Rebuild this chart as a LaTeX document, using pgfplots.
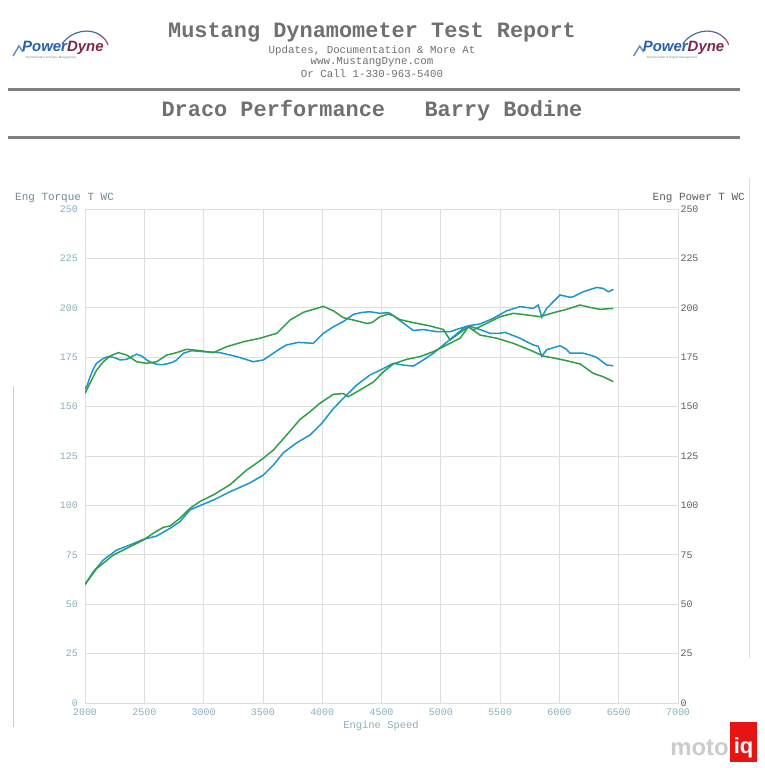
\documentclass[border=0pt]{standalone}
\usepackage{fontspec}
\setmainfont{Liberation Mono}
\newfontfamily\sansf{Liberation Sans}
\usepackage{pgfplots}
\pgfplotsset{compat=1.18}
\definecolor{gridgray}{RGB}{222,222,222}
\definecolor{ticklab}{RGB}{138,176,188}
\definecolor{rlab}{RGB}{95,95,95}
\definecolor{titlegray}{RGB}{112,112,112}
\definecolor{rulegray}{RGB}{128,128,128}
\definecolor{cblue}{RGB}{28,150,205}
\definecolor{cgreen}{RGB}{48,158,70}
\definecolor{pdblue}{RGB}{40,95,170}
\definecolor{pdred}{RGB}{125,40,75}
\definecolor{miqred}{RGB}{230,20,20}
\begin{document}
\begin{tikzpicture}[x=1bp,y=1bp]
\path[use as bounding box,fill=white] (0,0) rectangle (765,768);
% header
\node[text=titlegray,font=\bfseries\fontsize{22}{24}\selectfont] at (372,735) {Mustang Dynamometer Test Report};
\node[text=titlegray,font=\fontsize{10.8}{12}\selectfont] at (372,717) {Updates, Documentation \& More At};
\node[text=titlegray,font=\fontsize{10.8}{12}\selectfont] at (372,706) {www.MustangDyne.com};
\node[text=titlegray,font=\fontsize{10.8}{12}\selectfont] at (372,694) {Or Call 1-330-963-5400};
\draw[rulegray,line width=3bp] (8,678) -- (740,678);
\node[text=titlegray,font=\bfseries\fontsize{22}{24}\selectfont] at (372,657) {Draco Performance\ \ \ Barry Bodine};
\draw[rulegray,line width=3bp] (8,630) -- (740,630);
% logos
\foreach \ox in {0,623}{
  \begin{scope}[xshift=\ox]
    \draw[pdblue!60!gray,line width=1.2bp] (62,724) .. controls (72,738) and (90,740) .. (100,733);
    \draw[pdred!80,line width=1.2bp] (100,733) .. controls (104,730) and (107,727) .. (108,723);
    \draw[pdblue!70,line width=1.5bp] (13,712) -- (19,722) -- (23,716);
    \node[anchor=west,inner sep=0,font=\sansf\bfseries\itshape\fontsize{15}{16}\selectfont] at (22,720) {\textcolor{pdblue}{Power}\textcolor{pdred}{Dyne}};
    \node[anchor=west,inner sep=0,text=gray,font=\sansf\fontsize{3}{3}\selectfont] at (26,710) {Dynamometer \& Engine Management};
  \end{scope}
}
% faint scan lines
\draw[gray!40,line width=0.6bp] (13,41) -- (13,382);
\draw[gray!25,line width=0.6bp] (749,110) -- (749,590);
\begin{axis}[
  at={(85bp,65bp)}, anchor=south west,
  width=593bp, height=494bp, scale only axis,
  xmin=2000, xmax=7000, ymin=0, ymax=250,
  xtick={2000,2500,...,7000}, ytick={0,25,...,250},
  grid=major, grid style={color=gridgray,line width=0.7bp},
  axis line style={gridgray,line width=0.7bp},
  major tick length=0pt,
  tick label style={font=\fontsize{10}{12}\selectfont,text=ticklab},
  xticklabel style={/pgf/number format/1000 sep={},yshift=-2bp},
  yticklabel style={xshift=-3bp},
  /pgf/number format/assume math mode=true,
  line width=1.5bp,
]
% Blue torque
\addplot[cblue,no marks] coordinates {
(2000,158.7)(2020,161)(2042,165)(2070,169)(2098,172)(2155,174.4)(2197,175.3)(2250,174.8)(2295,173.6)(2351,173.9)(2400,175.5)(2436,176.5)(2480,175.5)(2520,173.6)(2560,172.3)(2604,171.4)(2650,171.2)(2689,171.6)(2740,172.5)(2773,173.6)(2829,177)(2900,178.3)(2998,177.8)(3138,177.3)(3279,175.3)(3419,172.7)(3504,173.6)(3588,177)(3650,179.5)(3700,181.2)(3799,182.5)(3850,182.3)(3925,182)(4010,187.1)(4094,190.4)(4178,193)(4263,196.7)(4340,197.7)(4403,198)(4487,197.2)(4544,197.5)(4572,197.2)(4656,193.5)(4768,188.5)(4853,189)(4966,187.9)(5078,187.9)(5162,189.6)(5232,190.8)(5303,189.6)(5415,187.1)(5500,187.1)(5541,187.6)(5668,184.6)(5724,182.8)(5780,181.2)(5822,180.5)(5851,175.5)(5893,178.8)(6005,180.8)(6060,179)(6089,177)(6145,177)(6201,177)(6258,176.1)(6314,174.9)(6343,173.6)(6399,171)(6455,170.7)
};
% Green torque
\addplot[cgreen,no marks] coordinates {
(2000,156.7)(2042,161.8)(2098,168.5)(2155,172.7)(2211,175.6)(2281,177.3)(2351,176.1)(2436,172.7)(2520,171.9)(2604,172.7)(2689,176.1)(2773,177.3)(2857,179)(2970,178.3)(3082,177.3)(3195,180.3)(3335,182.8)(3476,184.6)(3617,187.1)(3729,193.8)(3841,197.7)(3925,199.2)(4010,200.7)(4094,198.5)(4178,195)(4263,193.8)(4375,192.1)(4420,192.5)(4487,195.5)(4557,196.8)(4600,196)(4656,194)(4768,192.5)(4909,190.8)(5022,189)(5078,183.7)(5162,187.4)(5232,190.4)(5331,186.2)(5472,184.6)(5612,182)(5752,178.6)(5864,175.6)(6033,173.6)(6174,171.6)(6286,166.8)(6370,165.1)(6455,162.6)
};
% Blue power
\addplot[cblue,no marks] coordinates {
(2000,60)(2070,66.4)(2155,72.4)(2267,77.4)(2380,80)(2492,82.8)(2604,84.5)(2717,88.4)(2801,91.8)(2885,97.7)(2970,99.9)(3082,102.7)(3223,106.9)(3391,111.4)(3503,115.3)(3588,120.4)(3672,126.6)(3785,131.7)(3897,135.6)(3996,141.5)(4094,149)(4178,154.2)(4291,160.9)(4403,166)(4501,168.8)(4600,171.9)(4684,171)(4768,170.5)(4853,173.6)(4937,177)(5022,181.2)(5106,185.4)(5190,189.6)(5232,190.9)(5331,191.8)(5443,194.7)(5556,198.5)(5668,200.6)(5780,199.7)(5822,201.4)(5851,195.2)(5893,199.7)(6005,206.5)(6089,205.3)(6117,205.6)(6201,208.1)(6314,210.3)(6370,209.8)(6412,208.1)(6455,209.3)
};
% Green power
\addplot[cgreen,no marks] coordinates {
(2000,60)(2098,68)(2239,74.9)(2380,79.1)(2492,82.5)(2576,85.9)(2660,88.9)(2717,89.6)(2801,93.5)(2885,98.5)(2970,102)(3082,105.3)(3223,110.5)(3363,117.9)(3476,122.6)(3588,128)(3700,135.6)(3813,143.5)(3897,147.4)(3981,151.7)(4094,156.2)(4178,156.6)(4220,155)(4319,158.4)(4431,162.4)(4516,167.6)(4600,171.6)(4712,173.9)(4825,175.3)(4937,177.8)(5050,181.2)(5162,184.6)(5232,190.3)(5274,188.8)(5387,192.1)(5500,195.5)(5612,197.2)(5724,196.4)(5837,195.5)(5949,197.5)(6061,199.2)(6174,201.4)(6258,200.2)(6343,199.2)(6455,199.7)
};
\end{axis}
\begin{axis}[
  at={(85bp,65bp)}, anchor=south west,
  width=593bp, height=494bp, scale only axis,
  xmin=2000, xmax=7000, ymin=0, ymax=250,
  axis x line=none, axis y line*=right,
  y axis line style={draw=none},
  ytick={0,25,...,250},
  major tick length=0pt,
  tick label style={font=\fontsize{10}{12}\selectfont,text=rlab},
  yticklabel style={xshift=-1bp},
  /pgf/number format/assume math mode=true,
]
\addplot[draw=none] coordinates {(2000,0)};
\end{axis}
\node[anchor=west,inner sep=0,text=ticklab!80!black,font=\fontsize{11}{12}\selectfont] at (15,570) {Eng Torque T WC};
\node[anchor=east,inner sep=0,text=rlab,font=\fontsize{11}{12}\selectfont] at (745,570) {Eng Power T WC};
\node[text=ticklab,font=\fontsize{10.5}{12}\selectfont] at (381,42) {Engine Speed};
% motoiq logo
\fill[miqred] (730,6) rectangle (757,46);
\node[anchor=east,inner sep=0,text=gray!40,font=\sansf\bfseries\fontsize{24}{26}\selectfont] at (729,20) {moto};
\node[inner sep=0,text=white,font=\sansf\bfseries\fontsize{22}{24}\selectfont] at (743.5,20) {iq};
\end{tikzpicture}
\end{document}
